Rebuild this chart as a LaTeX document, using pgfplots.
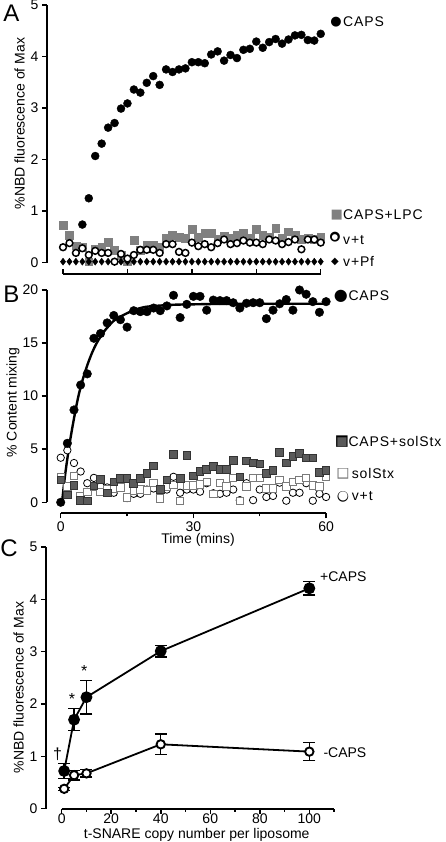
\documentclass[border=0pt]{standalone}
\usepackage{fontspec}
\setmainfont{Liberation Sans}
\newfontfamily\dejavu{DejaVu Sans}
\usepackage{pgfplots}
\usepackage{pgfplotstable}
\pgfplotsset{compat=1.18}
\definecolor{lpcgray}{HTML}{808080}
\definecolor{dkgray}{HTML}{5A5A5A}
\definecolor{sqedge}{HTML}{7A7A7A}
\newcommand{\fs}{\fontsize{14}{16}\selectfont}
\newcommand{\lgd}{\fontsize{14}{16}\selectfont\addfontfeature{LetterSpace=6}}
\newcommand{\sym}[2]{{\dejavu\fontsize{#1}{#1}\selectfont #2}}

\pgfplotstableread{
x lpc vt
0 0.73 0.30
1.5 0.54 0.38
3 0.33 0.19
4.5 0.30 0.28
6 0.02 0.15
7.5 0.27 0.23
9 0.30 0.19
10.5 0.39 0.19
12 0.25 0.02
13.5 0.15 0.17
15 0.02 0.08
16.5 0.43 0.15
18 0.25 0.25
19.5 0.34 0.25
21 0.34 0.25
22.5 0.30 0.19
24 0.47 0.36
25.5 0.54 0.36
27 0.50 0.21
28.5 0.48 0.19
30 0.65 0.39
31.5 0.50 0.32
33 0.57 0.36
34.5 0.57 0.30
36 0.45 0.38
37.5 0.52 0.45
39 0.48 0.36
40.5 0.54 0.38
42 0.57 0.43
43.5 0.48 0.39
45 0.65 0.39
46.5 0.54 0.36
48 0.50 0.45
49.5 0.67 0.43
51 0.48 0.36
52.5 0.60 0.40
54 0.54 0.45
55.5 0.45 0.26
57 0.47 0.45
58.5 0.45 0.45
60 0.50 0.39
}\tabA

\pgfplotstableread{
x caps
4.5 0.74
6 1.25
7.5 2.07
9 2.31
10.5 2.62
12 2.71
13.5 2.99
15 3.09
16.5 3.36
18 3.30
19.5 3.49
21 3.62
22.5 3.45
24 3.75
25.5 3.70
27 3.75
28.5 3.77
30 3.89
31.5 3.89
33 3.87
34.5 4.04
36 4.10
37.5 3.92
39 4.03
40.5 3.97
42 4.13
43.5 4.15
45 4.29
46.5 4.17
48 4.28
49.5 4.34
51 4.25
52.5 4.33
54 4.41
55.5 4.42
57 4.32
58.5 4.31
60 4.44
}\tabAcaps

\pgfplotstableread{
x caps capsol sol vt
0 0 2.1 2.4 4.2
1.5 5.56 0.7 1.5 4.9
3 8.7 1.6 2.5 3.7
4.5 11.05 0.2 0.6 2.9
6 12.1 0.13 1.0 1.8
7.5 15.45 1.54 1.5 2.3
9 15.9 2.17 1.0 1.5
10.5 16.9 0.9 1.2 1.4
12 17.6 1.94 1.3 0.9
13.5 17.2 2.26 1.4 1.6
15 16.5 2.26 0.47 0.4
16.5 18.05 1.79 1.1 0.8
18 17.96 2.26 1.2 0.8
19.5 17.96 2.73 1.1 1.2
21 18.3 3.42 1.85 1.3
22.5 18.05 1.22 0.37 0.9
24 18.5 2.1 1.5 1.2
25.5 19.5 4.53 1.65 2.4
27 17.4 2.26 0.15 0.9
28.5 18.65 4.4 1.6 1.2
30 19.4 2.5 1.6 1.2
31.5 19.4 2.9 1.7 1.0
33 18.1 3.1 1.9 1.8
34.5 19.05 3.4 0.8 0.85
36 19.0 3.1 1.8 0.8
37.5 19.0 3.1 1.5 0.9
39 18.8 3.92 2.3 1.2
40.5 18.3 2.4 0.15 0.2
42 18.75 3.9 1.5 1.8
43.5 18.8 3.7 2.3 0.2
45 18.8 3.6 2.3 1.2
46.5 17.3 2.7 1.3 0.5
48 18.1 3.0 1.3 0.6
49.5 18.7 4.7 2.1 1.85
51 19.1 3.7 1.5 0.15
52.5 18.1 4.3 1.9 0.9
54 20.0 4.6 2.1 0.9
55.5 19.6 4.2 2.3 1.8
57 18.9 4.2 1.6 0.15
58.5 17.9 2.8 1.5 0.8
60 18.9 3.0 2.4 0.5
}\tabB

\pgfplotsset{panel/.style={scale only axis, anchor=south west, clip=false,
  axis x line*=bottom, axis y line*=left, axis line style={draw=none},
  tick style={black, line width=1.5pt}, major tick length=5pt, minor tick length=3pt,
  tick label style={font=\fs}, /pgf/number format/assume math mode=true,
  tick align=outside}}

\begin{document}
\begin{tikzpicture}
\useasboundingbox (0pt,0pt) rectangle (446pt,842pt);

% ---------------- Panel A
\begin{axis}[panel, at={(47pt,568pt)}, width=282.3pt, height=269pt,
  xmin=-3.73, xmax=62, ymin=-0.219, ymax=5,
  xtick={0,15,30,45,60}, xticklabels={}, xtick align=inside,
  ytick={0,1,2,3,4,5}]
\addplot[only marks, mark=square*, mark size=3.9pt, color=lpcgray] table[x=x,y=lpc] {\tabA};
\addplot[only marks, mark=diamond*, mark size=3.5pt, black] table[x=x,y expr=0.02] {\tabA};
\addplot[only marks, mark=*, mark size=3.4pt, mark options={fill=white, draw=black, line width=1.5pt}] table[x=x,y=vt] {\tabA};
\addplot[only marks, mark=*, mark size=4pt, black] table[x=x,y=caps] {\tabAcaps};
\draw[line width=1.8pt] (axis cs:-3.73,0) -- (axis cs:-3.73,5);
\draw[line width=1.8pt] (axis cs:0,-0.219) -- (axis cs:60,-0.219);
\end{axis}

% ---------------- Panel B
\begin{axis}[panel, at={(46.7pt,328.7pt)}, width=283.8pt, height=223.3pt,
  xmin=-3.17, xmax=61, ymin=-1.036, ymax=20,
  xtick={0,30,60}, minor xtick={15,45}, ytick={0,5,10,15,20}]
\addplot[only marks, mark=*, mark size=3.7pt, mark options={fill=white, draw=black, line width=0.8pt}] table[x=x,y=vt] {\tabB};
\addplot[only marks, mark=square*, mark size=3.7pt, mark options={fill=white, draw=sqedge, line width=0.9pt}] table[x=x,y=sol] {\tabB};
\addplot[only marks, mark=square*, mark size=3.8pt, mark options={fill=dkgray, draw=black!80, line width=0.8pt}] table[x=x,y=capsol] {\tabB};
\addplot[black, line width=2.4pt, smooth, no marks] coordinates {
 (0.3,0) (1,2.6) (2,5.5) (3,7.9) (4,10.0) (5,11.6) (6,12.9) (7,14.0) (8,14.9) (9,15.6)
 (10,16.2) (12,17.1) (14,17.6) (16,18.0) (18,18.3) (20,18.45) (25,18.6) (30,18.65) (40,18.7) (60,18.7)};
\addplot[only marks, mark=*, mark size=4.3pt, black] table[x=x,y=caps] {\tabB};
\draw[line width=1.8pt] (axis cs:-3.17,0) -- (axis cs:-3.17,20);
\draw[line width=1.8pt] (axis cs:0,-1.036) -- (axis cs:60,-1.036);
\end{axis}

% ---------------- Panel C
\begin{axis}[panel, at={(46pt,33.3pt)}, width=288.1pt, height=261.75pt,
  xmin=-6.34, xmax=110, ymin=0, ymax=5,
  xticklabel style={yshift=3.5pt},
  xtick={0,20,40,60,80,100}, minor xtick={10,30,50,70,90,110}, ytick={0,1,2,3,4,5}]
\addplot[black, line width=1.8pt, mark=*, mark size=4.2pt,
  mark options={fill=white, draw=black, line width=1.9pt},
  error bars/.cd, y dir=both, y explicit,
  error bar style={line width=1.4pt, black},
  error mark options={rotate=90, line width=1.4pt, mark size=6pt, black}]
  coordinates {(1,0.38) +- (0,0.03) (5,0.64) +- (0,0.09) (10,0.675) +- (0,0.07) (40,1.23) +- (0,0.2) (100,1.09) +- (0,0.17)};
\addplot[black, line width=1.8pt, mark=*, mark size=5pt, mark options={fill=black},
  error bars/.cd, y dir=both, y explicit,
  error bar style={line width=1.4pt, black},
  error mark options={rotate=90, line width=1.4pt, mark size=6pt, black}]
  coordinates {(1,0.72) +- (0,0.14) (5,1.70) +- (0,0.21) (10,2.13) +- (0,0.32) (40,3.01) +- (0,0.11) (100,4.21) +- (0,0.13)};
\draw[line width=1.8pt] (axis cs:-6.34,0) -- (axis cs:-6.34,5);
\draw[line width=1.8pt] (axis cs:0,0) -- (axis cs:110,0);
\end{axis}

\begin{scope}[x=1pt,y=1pt]
% ---------------- labels
\node[font=\fontsize{24}{26}\selectfont] at (11.5,828.5) {A};
\node[font=\fontsize{24}{26}\selectfont] at (11.5,548) {B};
\node[font=\fontsize{24}{26}\selectfont] at (9,293.5) {C};

\node[rotate=90, font=\fs] at (19.5,718.5) {\%NBD fluorescence of Max};
\node[rotate=90, font=\fs] at (13,439.5) {\% Content mixing};
\node[rotate=90, font=\fs] at (18.5,154.5) {\%NBD fluorescence of Max};
\node[font=\fs] at (198,302.5) {Time (mins)};
\node[font=\fs] at (196.7,7) {t-SNARE copy number per liposome};

% legend A
\node[inner sep=0] at (336,820) {\sym{13}{●}};
\node[anchor=west, inner sep=0, font=\lgd] at (343,820) {CAPS};
\node[inner sep=0, text=lpcgray] at (336.7,627) {\sym{13}{■}};
\node[anchor=west, inner sep=0, font=\lgd] at (343,627) {CAPS+LPC};
\node[inner sep=0] at (335,604.7) {\sym{13}{●}};
\node[inner sep=0, text=white] at (335,604.7) {\sym{7.5}{●}};
\node[anchor=west, inner sep=0, font=\lgd] at (343,602) {v+t};
\node[inner sep=0] at (335,579.7) {\sym{10}{◆}};
\node[anchor=west, inner sep=0, font=\lgd] at (343,580.3) {v+Pf};

% legend B
\node[inner sep=0] at (340.8,546) {\sym{16}{●}};
\node[anchor=west, inner sep=0, font=\lgd] at (348.3,546) {CAPS};
\node[inner sep=0] at (342,400) {\sym{15}{■}};
\node[inner sep=0, text=dkgray] at (342,400) {\sym{12}{■}};
\node[anchor=west, inner sep=0, font=\lgd] at (348.3,400) {CAPS+solStx};
\node[inner sep=0, text=sqedge] at (343,368) {\sym{14}{■}};
\node[inner sep=0, text=white] at (343,368) {\sym{11.5}{■}};
\node[anchor=west, inner sep=0, font=\lgd] at (351.7,368) {solStx};
\node[inner sep=0] at (343,345.3) {\sym{14}{●}};
\node[inner sep=0, text=white] at (343,345.3) {\sym{12}{●}};
\node[anchor=west, inner sep=0, font=\lgd] at (351.7,346) {v+t};

% legend C
\node[anchor=west, inner sep=0, font=\fs] at (320,265.3) {+CAPS};
\node[anchor=west, inner sep=0, font=\fs] at (323.3,89.7) {-CAPS};
\node[font=\fontsize{16}{18}\selectfont] at (57.5,88) {†};
\node[anchor=base, font=\fontsize{16}{18}\selectfont] at (72,137.3) {*};
\node[anchor=base, font=\fontsize{16}{18}\selectfont] at (84.3,165.7) {*};
\end{scope}
\end{tikzpicture}
\end{document}
